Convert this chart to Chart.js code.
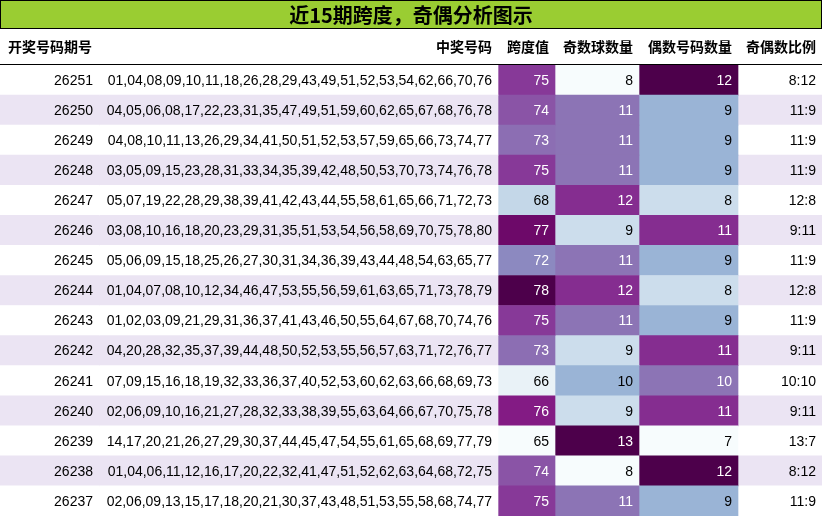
<!DOCTYPE html>
<html><head><meta charset="utf-8">
<script src="https://cdn.jsdelivr.net/npm/chart.js@4/dist/chart.umd.min.js"></script>
<style>html,body{margin:0;padding:0;background:#fff}#wrap{width:822px;height:516px}</style>
</head><body><div id="wrap"><canvas id="c"></canvas></div>
<script>
const titleText = "近15期跨度，奇偶分析图示";
const headers = ["开奖号码期号","中奖号码","跨度值","奇数球数量","偶数号码数量","奇偶数比例"];
const periods = ["26251","26250","26249","26248","26247","26246","26245","26244","26243","26242","26241","26240","26239","26238","26237"];
const numbers = [
"01,04,08,09,10,11,18,26,28,29,43,49,51,52,53,54,62,66,70,76",
"04,05,06,08,17,22,23,31,35,47,49,51,59,60,62,65,67,68,76,78",
"04,08,10,11,13,26,29,34,41,50,51,52,53,57,59,65,66,73,74,77",
"03,05,09,15,23,28,31,33,34,35,39,42,48,50,53,70,73,74,76,78",
"05,07,19,22,28,29,38,39,41,42,43,44,55,58,61,65,66,71,72,73",
"03,08,10,16,18,20,23,29,31,35,51,53,54,56,58,69,70,75,78,80",
"05,06,09,15,18,25,26,27,30,31,34,36,39,43,44,48,54,63,65,77",
"01,04,07,08,10,12,34,46,47,53,55,56,59,61,63,65,71,73,78,79",
"01,02,03,09,21,29,31,36,37,41,43,46,50,55,64,67,68,70,74,76",
"04,20,28,32,35,37,39,44,48,50,52,53,55,56,57,63,71,72,76,77",
"07,09,15,16,18,19,32,33,36,37,40,52,53,60,62,63,66,68,69,73",
"02,06,09,10,16,21,27,28,32,33,38,39,55,63,64,66,67,70,75,78",
"14,17,20,21,26,27,29,30,37,44,45,47,54,55,61,65,68,69,77,79",
"01,04,06,11,12,16,17,20,22,32,41,47,51,52,62,63,64,68,72,75",
"02,06,09,13,15,17,18,20,21,30,37,43,48,51,53,55,58,68,74,77"];
const spans = [75,74,73,75,68,77,72,78,75,73,66,76,65,74,75];
const odds  = [8,11,11,11,12,9,11,12,11,9,10,9,13,8,11];
const evens = [12,9,9,9,8,11,9,8,9,11,10,11,7,12,9];
const ratios = odds.map((o,i)=>o+":"+evens[i]);

const colBounds = [0,99,498,555,639,738,822];
const widths = colBounds.slice(1).map((b,i)=>b-colBounds[i]);
const BUPU = ["#f7fcfd","#e0ecf4","#bfd3e6","#9ebcda","#8c96c6","#8c6bb1","#88419d","#810f7c","#4d004b"];
function hex(h){return [1,3,5].map(i=>parseInt(h.substr(i,2),16));}
function bupu(t){const p=t*(BUPU.length-1);const i=Math.min(Math.floor(p),BUPU.length-2);const f=p-i;
 const a=hex(BUPU[i]),b=hex(BUPU[i+1]);return "rgb("+a.map((v,k)=>Math.round(v+(b[k]-v)*f)).join(",")+")";}
function norm(arr){const mn=Math.min(...arr),mx=Math.max(...arr);return arr.map(v=>(v-mn)/(mx-mn));}
const heat = [null,null,norm(spans),norm(odds),norm(evens),null];
const cellText = [periods,numbers,spans,odds,evens,ratios];
const stripe = periods.map((_,i)=>i%2? "#ebe4f3":"#ffffff");

const datasets = widths.map((w,c)=>({
  data: periods.map(()=>w),
  backgroundColor: periods.map((_,r)=>heat[c]? bupu(heat[c][r]) : stripe[r]),
  borderWidth:0, barPercentage:1, categoryPercentage:1, stack:"s"
}));

const tablePlugin = {
  id:"tbl",
  beforeDraw(ch){
    const ctx=ch.ctx;
    ctx.save();
    ctx.fillStyle="#9acd32"; ctx.fillRect(0,0,822,28);
    ctx.strokeStyle="#000"; ctx.lineWidth=1; ctx.strokeRect(0.5,0.5,821,28);
    ctx.fillStyle="#000"; ctx.font="bold 20px 'Noto Sans CJK SC', sans-serif";
    ctx.textAlign="center"; ctx.textBaseline="middle"; ctx.fillText(titleText,411,15);
    ctx.font="bold 14px 'Noto Sans CJK SC', sans-serif"; ctx.textAlign="right";
    headers.forEach((h,c)=>{
      if(c===0){ctx.textAlign="left";ctx.fillText(h,8,47);ctx.textAlign="right";}
      else ctx.fillText(h,colBounds[c+1]-6,47);
    });
    ctx.beginPath(); ctx.moveTo(0,64.5); ctx.lineTo(822,64.5); ctx.stroke();
    ctx.restore();
  },
  afterDatasetsDraw(ch){
    const ctx=ch.ctx, ys=ch.scales.y, xs=ch.scales.x;
    ctx.save(); ctx.textAlign="right"; ctx.textBaseline="middle";
    ctx.font="14px 'Liberation Sans', Arial, sans-serif";
    periods.forEach((_,r)=>{
      const y=ys.getPixelForValue(r)+1;
      cellText.forEach((arr,c)=>{
        const t=heat[c]?heat[c][r]:0;
        ctx.fillStyle = t>0.5? "#fff":"#000";
        ctx.fillText(String(arr[r]), xs.getPixelForValue(colBounds[c+1])-6, y);
      });
    });
    ctx.restore();
  }
};

new Chart(document.getElementById("c"),{
  type:"bar",
  data:{labels:periods,datasets},
  options:{
    indexAxis:"y", responsive:true, maintainAspectRatio:false, animation:false,
    layout:{padding:{top:65,left:0,right:0,bottom:0}},
    plugins:{legend:{display:false},tooltip:{enabled:false}},
    scales:{
      x:{type:"linear",min:0,max:822,stacked:true,display:false},
      y:{stacked:true,display:false}
    }
  },
  plugins:[tablePlugin]
});
</script></body></html>
